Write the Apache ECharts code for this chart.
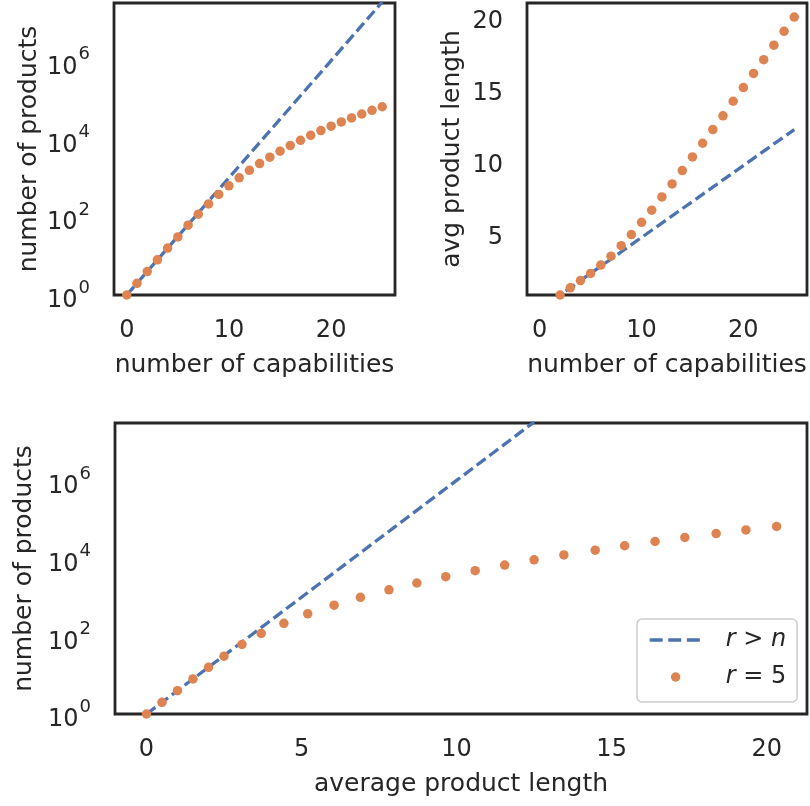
<!DOCTYPE html>
<html><head><meta charset="utf-8">
<script src="https://cdn.jsdelivr.net/npm/echarts@6/dist/echarts.min.js"></script>
<style>html,body{margin:0;padding:0;background:#fff}#c{width:810px;height:806px}</style>
</head><body><div id="c"></div>
<script>
// number of capabilities n
const capabilities = [0,1,2,3,4,5,6,7,8,9,10,11,12,13,14,15,16,17,18,19,20,21,22,23,24,25];
// r > n : number of products and average product length
const unboundedCount = [1,2,4,8,16,32,64,128,256,512,1024,2048,4096,8192,16384,32768,65536,131072,262144,524288,1048576,2097152,4194304,8388608,16777216,33554432];
const unboundedLen = [0,0.5,1,1.5,2,2.5,3,3.5,4,4.5,5,5.5,6,6.5,7,7.5,8,8.5,9,9.5,10,10.5,11,11.5,12,12.5];
// r = 5 : number of products and average product length
const r5Count = [1,2,4,8,16,31,62,119,218,382,637,1020,1590,2380,3470,4940,6880,9400,12600,16700,21700,27900,35400,44600,55500,68400];
const r5Len = [0,0.5,1.0,1.5,2.0,2.5,3.08,3.7,4.43,5.2,6.05,6.9,7.82,8.72,9.65,10.6,11.55,12.5,13.46,14.47,15.42,16.4,17.36,18.37,19.33,20.32];
const legendNames = ['r > n','r = 5'];

const FONT = 'DejaVu Sans';
const INK = '#262626';
const BLUE = '#4C72B0';
const ORANGE = '#DD8452';

const pair = (xs, ys) => xs.map((x, i) => [x, ys[i]]);

function logFmt(v) {
  const l = Math.log10(v);
  const e = Math.round(l);
  if (Math.abs(l - e) > 1e-6 || e % 2 !== 0) return '';
  return '{b|10}{s|' + e + '}';
}
const logRich = {
  b: {fontSize: 24, fontFamily: FONT, color: INK, padding: [12, 0, 0, 0]},
  s: {fontSize: 18, fontFamily: FONT, color: INK, padding: [0, 0, 14, 1]}
};
const stepFmt = step => v => (Math.abs(v / step - Math.round(v / step)) < 1e-9 ? String(Math.round(v)) : '');

function xAxisDef(grid, min, max, step, name) {
  return {
    type: 'value', gridIndex: grid, min: min, max: max, minInterval: step, maxInterval: step,
    axisLine: {show: false}, axisTick: {show: false}, splitLine: {show: false},
    axisLabel: {margin: 24, fontSize: 24, fontFamily: FONT, color: INK, formatter: stepFmt(step), showMinLabel: true, showMaxLabel: true},
    name: name, nameLocation: 'middle', nameGap: 58,
    nameTextStyle: {fontSize: 25, fontFamily: FONT, color: INK}
  };
}
function yLogDef(grid, name, gap) {
  return {
    type: 'log', logBase: 10, gridIndex: grid, min: 1, max: Math.pow(10, 7.5),
    axisLine: {show: false}, axisTick: {show: false}, splitLine: {show: false}, minorTick: {show: false},
    axisLabel: {margin: 24, formatter: logFmt, rich: logRich, showMinLabel: true, showMaxLabel: true},
    name: name, nameLocation: 'middle', nameGap: gap, nameRotate: 90,
    nameTextStyle: {fontSize: 25, fontFamily: FONT, color: INK}
  };
}

const lineStyle = {color: BLUE, width: 3.3, type: [11.1, 4.8]};
function lineSeries(xi, data) {
  return {type: 'line', name: legendNames[0], xAxisIndex: xi, yAxisIndex: xi, data: data,
    symbol: 'none', showSymbol: false, lineStyle: lineStyle, itemStyle: {color: BLUE}, clip: true, z: 2};
}
function dotSeries(xi, data) {
  return {type: 'scatter', name: legendNames[1], xAxisIndex: xi, yAxisIndex: xi, data: data,
    symbol: 'circle', symbolSize: 9.5, itemStyle: {color: ORANGE, opacity: 1}, clip: true, z: 3};
}

const gridStyle = {show: true, borderColor: INK, borderWidth: 2.8, backgroundColor: '#ffffff', containLabel: false};

const option = {
  animation: false,
  backgroundColor: '#ffffff',
  grid: [
    Object.assign({left: 114, top: 3, width: 281, height: 292}, gridStyle),
    Object.assign({left: 527, top: 3, width: 280, height: 292}, gridStyle),
    Object.assign({left: 115, top: 423, width: 693, height: 291}, gridStyle)
  ],
  xAxis: [
    xAxisDef(0, -1.25, 26.25, 10, 'number of capabilities'),
    xAxisDef(1, -1.25, 26.25, 10, 'number of capabilities'),
    xAxisDef(2, -1.015, 21.3, 5, 'average product length')
  ],
  yAxis: [
    yLogDef(0, 'number of products', 72),
    {
      type: 'value', gridIndex: 1, min: 1, max: 21.3, minInterval: 5, maxInterval: 5,
      axisLine: {show: false}, axisTick: {show: false}, splitLine: {show: false},
      axisLabel: {margin: 24, fontSize: 24, fontFamily: FONT, color: INK, formatter: stepFmt(5)},
      name: 'avg product length', nameLocation: 'middle', nameGap: 62, nameRotate: 90,
      nameTextStyle: {fontSize: 25, fontFamily: FONT, color: INK}
    },
    yLogDef(2, 'number of products', 74)
  ],
  legend: {
    data: [
      {name: legendNames[0], itemStyle: {color: 'rgba(0,0,0,0)', opacity: 0, borderWidth: 0},
       lineStyle: {width: 3.3, type: [13, 5.6]}},
      {name: legendNames[1]}
    ],
    orient: 'vertical', left: 637, top: 619,
    padding: [7, 11, 11, 11], itemWidth: 52, itemHeight: 9.5, itemGap: 9,
    backgroundColor: '#ffffff', borderColor: '#cccccc', borderWidth: 1.5, borderRadius: 5,
    selectedMode: false,
    formatter: n => n === legendNames[0] ? '{i|r} > {i|n}' : '{i|r} = 5',
    textStyle: {fontSize: 24, lineHeight: 28, fontFamily: FONT, color: INK, padding: [0, 0, 0, 19],
      rich: {i: {fontSize: 24, lineHeight: 28, fontFamily: FONT, fontStyle: 'italic', color: INK}}}
  },
  series: [
    lineSeries(0, pair(capabilities, unboundedCount)),
    dotSeries(0, pair(capabilities, r5Count)),
    lineSeries(1, pair(capabilities, unboundedLen)),
    dotSeries(1, pair(capabilities, r5Len)),
    lineSeries(2, pair(unboundedLen, unboundedCount)),
    dotSeries(2, pair(r5Len, r5Count))
  ]
};
const chart = echarts.init(document.getElementById('c'), null, {renderer: 'canvas'});
chart.setOption(option);
</script></body></html>
